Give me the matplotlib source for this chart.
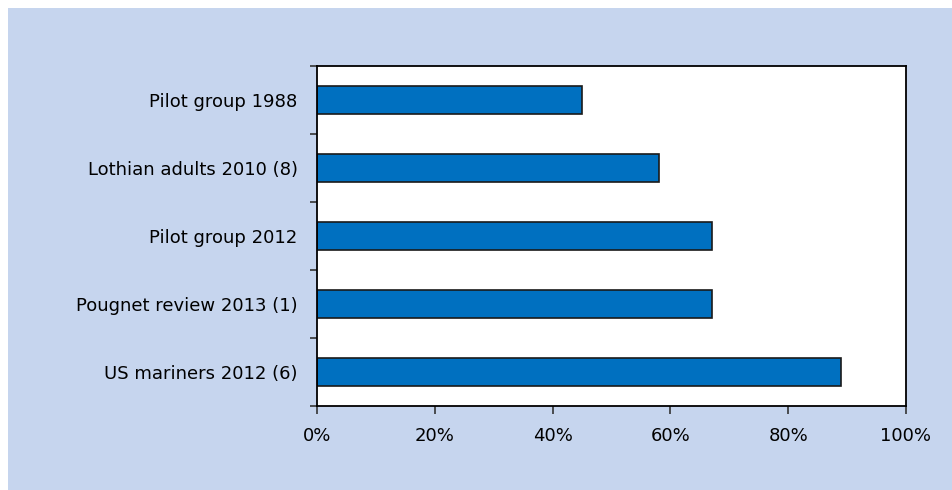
import matplotlib.pyplot as plt
from matplotlib.patches import Rectangle
from matplotlib.ticker import FuncFormatter, FixedLocator

# data, top to bottom as shown
studies = ["Pilot group 1988", "Lothian adults 2010 (8)", "Pilot group 2012",
           "Pougnet review 2013 (1)", "US mariners 2012 (6)"]
percent = [45, 58, 67, 67, 89]
xticks = [0, 20, 40, 60, 80, 100]

plt.rcParams['font.family'] = ['DejaVu Sans']

fig = plt.figure(figsize=(9.52, 4.90), dpi=100)
fig.patch.set_facecolor('white')
# light blue panel, leaving a thin white strip at top and left
fig.patches.append(Rectangle((8 / 952, 0), 1 - 8 / 952, 1 - 8 / 490,
                             transform=fig.transFigure, facecolor='#c6d5ee',
                             edgecolor='none', zorder=-5))

ax = fig.add_axes([317 / 952, 1 - 406 / 490, (906 - 317) / 952, (406 - 66) / 490])
ax.set_facecolor('white')

ypos = list(range(len(studies)))
ax.barh(ypos, percent, height=0.4, color='#0070c0', edgecolor='#1a1a1a', lw=1.2)

ax.set_xlim(0, 100)
ax.set_ylim(len(studies) - 0.5, -0.5)
ax.set_xticks(xticks)
ax.xaxis.set_major_formatter(FuncFormatter(lambda v, p: '%d%%' % v))

# labels at bar centres, tick marks at the band boundaries
ax.set_yticks(ypos)
ax.set_yticklabels(studies)
ax.yaxis.set_minor_locator(FixedLocator([i - 0.5 for i in range(len(studies) + 1)]))
ax.tick_params(axis='y', which='major', length=0, pad=14, labelsize=13)
ax.tick_params(axis='y', which='minor', length=5, width=1.2, color='#333333')
ax.tick_params(axis='x', length=6, width=1.2, color='#333333', pad=9, labelsize=13)

for side in ['top', 'right', 'left', 'bottom']:
    ax.spines[side].set_linewidth(1.3)
    ax.spines[side].set_color('black')

fig.savefig('out.png', dpi=100, facecolor=fig.get_facecolor())
